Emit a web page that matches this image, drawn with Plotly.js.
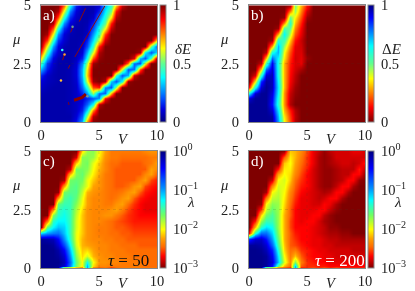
<!DOCTYPE html>
<html><head><meta charset="utf-8">
<script src="https://cdn.plot.ly/plotly-3.0.1.min.js"></script>
<style>html,body{margin:0;padding:0;background:#fff;overflow:hidden}#wrap{width:415px;height:291px;overflow:hidden;position:relative}#c{position:absolute;left:0;top:-12px;width:415px;height:315px;filter:blur(0.35px)}</style>
</head><body><div id="wrap"><div id="c"></div></div>
<script>
const vValues=[0,0.5,1,1.5,2,2.5,3,3.5,4,4.5,5,5.5,6,6.5,7,7.5,8,8.5,9,9.5,10];
const muValues=[5,4.75,4.5,4.25,4,3.75,3.5,3.25,3,2.75,2.5,2.25,2,1.75,1.5,1.25,1,0.75,0.5,0.25,0];
const muValuesLog=[5,4.75,4.5,4.25,4,3.75,3.5,3.25,3,2.75,2.5,2.25,2,1.75,1.5,1.25,1,0.75,0.5,0.25,0.07,0];

const deltaSmallE=[
[1,1,1,1,.78,.4,.15,.07,.05,.06,.1,.3,.43,.68,.93,1,1,1,1,1,1],
[1,1,1,.95,.6,.25,.1,.06,.05,.06,.15,.36,.52,.87,1,1,1,1,1,1,1],
[1,1,1,.8,.42,.16,.08,.05,.05,.08,.25,.42,.65,.95,1,1,1,1,1,1,1],
[1,1,.95,.6,.26,.1,.06,.05,.06,.15,.33,.5,.85,1,1,1,1,1,1,1,1],
[1,1,.8,.42,.16,.08,.05,.05,.07,.2,.4,.62,.93,1,1,1,1,1,1,1,1],
[1,.96,.62,.26,.1,.06,.05,.05,.08,.28,.47,.82,1,1,1,1,1,1,1,1,1],
[1,.82,.44,.17,.09,.05,.05,.06,.15,.35,.6,.92,1,1,1,1,1,1,1,1,.65],
[.97,.62,.28,.11,.06,.05,.05,.08,.2,.45,.85,1,1,1,1,1,1,1,1,.5,.2],
[.83,.46,.18,.09,.05,.05,.06,.1,.3,.6,.95,1,1,1,1,1,1,.97,.38,.2,.35],
[.65,.3,.11,.06,.05,.05,.07,.15,.4,.8,.98,1,1,1,1,1,.9,.3,.2,.48,1],
[.46,.18,.09,.05,.05,.05,.09,.25,.56,.97,1,1,1,1,1,.75,.22,.2,.62,1,1],
[.3,.14,.07,.05,.05,.06,.1,.3,.65,1,1,1,1,1,.6,.2,.23,.8,1,1,1],
[.15,.08,.06,.05,.05,.06,.1,.3,.68,1,1,1,1,.45,.2,.3,.93,1,1,1,1],
[.1,.07,.06,.05,.05,.06,.09,.27,.6,.97,1,.95,.33,.2,.4,.98,1,1,1,1,1],
[.08,.06,.05,.05,.05,.06,.08,.22,.42,.8,.85,.26,.2,.55,1,1,1,1,1,1,1],
[.06,.05,.05,.05,.05,.06,.08,.15,.28,.55,.22,.22,.7,1,1,1,1,1,1,1,1],
[.05,.05,.05,.05,.05,.06,.08,.1,.15,.2,.27,.87,1,1,1,1,1,1,1,1,1],
[.05,.05,.05,.05,.05,.06,.08,.12,.22,.4,.95,1,1,1,1,1,1,1,1,1,1],
[.05,.05,.05,.05,.05,.06,.08,.15,.35,.75,1,1,1,1,1,1,1,1,1,1,1],
[.05,.05,.05,.05,.05,.05,.1,.22,.55,.95,1,1,1,1,1,1,1,1,1,1,1],
[.05,.05,.05,.05,.05,.06,.13,.3,.75,1,1,1,1,1,1,1,1,1,1,1,1]];

const deltaBigE=[
[0,0,0,0,0,0,0,.03,.48,.3,.14,0,0,0,0,0,0,0,0,0,0],
[0,0,0,0,0,0,0,.25,.45,.25,.08,0,0,0,0,0,0,0,0,0,0],
[0,0,0,0,0,0,.02,.5,.36,.2,.03,0,0,0,0,0,0,0,0,0,0],
[0,0,0,0,0,0,.27,.58,.3,.15,0,0,0,0,0,0,0,0,0,0,0],
[0,0,0,0,0,.03,.53,.5,.25,.12,0,0,0,0,0,0,0,0,0,0,0],
[0,0,0,0,0,.3,.65,.42,.2,.1,0,0,0,0,0,0,0,0,0,0,0],
[0,0,0,0,.04,.6,.55,.32,.14,.07,0,0,0,0,0,0,0,0,0,0,0],
[0,0,0,0,.3,.72,.45,.25,.1,.08,0,0,0,0,0,0,0,0,0,0,0],
[0,0,0,.06,.62,.72,.38,.2,.09,.09,0,0,0,0,0,0,0,0,0,0,0],
[0,0,0,.32,.8,.65,.35,.17,.08,.1,.02,0,0,0,0,0,0,0,0,0,0],
[0,0,.07,.55,.9,.62,.3,.15,.09,.1,0,0,0,0,0,0,0,0,0,0,0],
[0,0,.33,.8,.93,.62,.3,.14,.08,.04,0,0,0,0,0,0,0,0,0,0,0],
[0,.09,.6,.93,.95,.62,.3,.13,.06,0,0,0,0,0,0,0,0,0,0,0,0],
[0,.35,.85,.97,.95,.65,.3,.12,.05,0,0,0,0,0,0,0,0,0,0,0,0],
[.15,.62,.93,.98,.95,.67,.3,.1,.03,0,0,0,0,0,0,0,0,0,0,0,0],
[.65,.93,.98,.98,.92,.65,.27,.07,.02,0,0,0,0,0,0,0,0,0,0,0,0],
[.93,.98,.98,.98,.9,.62,.27,.06,.01,0,0,0,0,0,0,0,0,0,0,0,0],
[.98,.98,.98,.98,.88,.6,.27,.05,0,0,0,0,0,0,0,0,0,0,0,0,0],
[.98,.98,.98,.98,.93,.67,.3,.15,.05,0,0,0,0,0,0,0,0,0,0,0,0],
[.98,.98,.98,.98,.97,.72,.35,.18,.06,0,0,0,0,0,0,0,0,0,0,0,0],
[.98,.98,.98,.98,.98,.75,.38,.2,.05,0,0,0,0,0,0,0,0,0,0,0,0]];

const logLambda50=[
[-3,-3,-3,-3,-3,-3,-3,-2.1,-1.75,-1.7,-2,-2.25,-2.4,-2.4,-2.4,-2.4,-2.4,-2.4,-2.35,-2.3,-2.3],
[-3,-3,-3,-3,-3,-3,-2.8,-1.7,-1.7,-1.75,-2.05,-2.3,-2.4,-2.4,-2.45,-2.45,-2.45,-2.45,-2.45,-2.4,-2.4],
[-3,-3,-3,-3,-3,-3,-2.15,-1.7,-1.65,-1.95,-2.15,-2.35,-2.45,-2.45,-2.5,-2.5,-2.5,-2.5,-2.45,-2.4,-2.25],
[-3,-3,-3,-3,-3,-2.85,-1.65,-1.65,-1.7,-2,-2.2,-2.35,-2.45,-2.5,-2.5,-2.5,-2.5,-2.5,-2.5,-2.25,-2.35],
[-3,-3,-3,-3,-3,-2.2,-1.7,-1.6,-1.8,-2.05,-2.25,-2.4,-2.45,-2.5,-2.5,-2.5,-2.5,-2.5,-2.35,-2.25,-2.5],
[-3,-3,-3,-3,-2.9,-1.65,-1.6,-1.65,-1.95,-2.15,-2.3,-2.4,-2.45,-2.5,-2.5,-2.5,-2.5,-2.35,-2.25,-2.55,-2.65],
[-3,-3,-3,-3,-2.27,-1.6,-1.55,-1.75,-1.95,-2.25,-2.3,-2.4,-2.45,-2.5,-2.5,-2.45,-2.3,-2.25,-2.55,-2.65,-2.7],
[-3,-3,-3,-2.95,-1.65,-1.55,-1.55,-1.85,-2.2,-2.3,-2.35,-2.4,-2.45,-2.45,-2.4,-2.3,-2.25,-2.5,-2.65,-2.7,-2.75],
[-3,-3,-3,-2.3,-1.55,-1.45,-1.6,-1.95,-2.25,-2.35,-2.35,-2.4,-2.45,-2.4,-2.3,-2.25,-2.5,-2.65,-2.7,-2.75,-2.75],
[-3,-3,-3,-1.6,-1.45,-1.45,-1.7,-2,-2.25,-2.35,-2.35,-2.4,-2.4,-2.3,-2.25,-2.45,-2.6,-2.7,-2.75,-2.75,-2.75],
[-3,-3,-2.3,-1.45,-1.35,-1.45,-1.8,-2.1,-2.3,-2.35,-2.35,-2.35,-2.3,-2.25,-2.4,-2.55,-2.65,-2.7,-2.75,-2.75,-2.75],
[-3,-3,-1.7,-1.4,-1.3,-1.45,-1.85,-2.15,-2.3,-2.35,-2.35,-2.3,-2.3,-2.4,-2.5,-2.6,-2.65,-2.7,-2.7,-2.7,-2.7],
[-3,-2.4,-1.4,-1.25,-1.25,-1.45,-1.9,-2.15,-2.3,-2.35,-2.35,-2.4,-2.45,-2.5,-2.55,-2.6,-2.65,-2.65,-2.65,-2.65,-2.65],
[-3,-1.6,-1.25,-1.1,-1.15,-1.45,-1.9,-2.15,-2.3,-2.35,-2.4,-2.4,-2.45,-2.5,-2.5,-2.55,-2.6,-2.6,-2.6,-2.6,-2.6],
[-1.2,-1,-.9,-.85,-1.1,-1.45,-1.95,-2.15,-2.3,-2.35,-2.4,-2.4,-2.45,-2.45,-2.5,-2.5,-2.55,-2.55,-2.55,-2.55,-2.55],
[-.1,-.15,-.2,-.45,-.95,-1.4,-1.95,-2.2,-2.3,-2.35,-2.35,-2.4,-2.4,-2.45,-2.45,-2.5,-2.5,-2.5,-2.5,-2.5,-2.5],
[-.05,-.05,-.1,-.3,-.7,-1.25,-1.9,-2.2,-2.25,-2.3,-2.35,-2.35,-2.4,-2.4,-2.45,-2.45,-2.45,-2.5,-2.5,-2.5,-2.5],
[-.05,-.05,-.05,-.15,-.45,-1.1,-1.8,-2.15,-2.1,-2.25,-2.35,-2.35,-2.4,-2.4,-2.4,-2.45,-2.45,-2.45,-2.45,-2.45,-2.45],
[-.05,-.05,-.05,-.1,-.3,-.95,-1.7,-2.1,-1.9,-2.2,-2.3,-2.35,-2.35,-2.4,-2.4,-2.4,-2.45,-2.45,-2.45,-2.45,-2.45],
[-.05,-.05,-.05,-.05,-.2,-.8,-1.6,-2,-1.3,-2,-2.3,-2.3,-2.35,-2.35,-2.4,-2.4,-2.4,-2.4,-2.45,-2.45,-2.45],
[-.05,-.05,-.05,-.08,-.3,-.9,-1.65,-2.05,-1.05,-2.1,-2.35,-2.35,-2.4,-2.4,-2.4,-2.4,-2.4,-2.4,-2.45,-2.45,-2.45],
[-.05,-.05,-.05,-.1,-2.9,-2.7,-2.6,-2.5,-1,-2.5,-2.6,-2.45,-2.7,-2.5,-2.4,-2.4,-2.4,-2.4,-2.4,-2.4,-2.4]];

const logLambda200=[
[-3,-3,-3,-3,-3,-3,-2.95,-2.15,-2.2,-2.35,-2.55,-2.75,-2.85,-2.95,-2.85,-2.8,-2.8,-2.8,-2.75,-2.75,-2.8],
[-3,-3,-3,-3,-3,-3,-2.5,-2.05,-2.2,-2.4,-2.6,-2.75,-2.9,-2.95,-2.9,-2.8,-2.8,-2.8,-2.8,-2.8,-2.8],
[-3,-3,-3,-3,-3,-3,-2.15,-2,-2.25,-2.45,-2.6,-2.75,-2.9,-2.95,-2.9,-2.85,-2.8,-2.8,-2.85,-2.8,-2.65],
[-3,-3,-3,-3,-3,-2.65,-2.05,-2.05,-2.3,-2.5,-2.65,-2.8,-2.9,-2.95,-2.95,-2.9,-2.85,-2.85,-2.85,-2.65,-2.85],
[-3,-3,-3,-3,-3,-2.25,-2,-2.1,-2.35,-2.55,-2.7,-2.8,-2.9,-2.95,-2.95,-2.9,-2.85,-2.85,-2.7,-2.7,-2.95],
[-3,-3,-3,-3,-2.8,-2,-1.9,-2.15,-2.45,-2.6,-2.7,-2.8,-2.9,-2.95,-2.95,-2.9,-2.85,-2.7,-2.7,-2.95,-3],
[-3,-3,-3,-3,-2.35,-1.9,-1.95,-2.25,-2.5,-2.65,-2.7,-2.8,-2.9,-2.95,-2.95,-2.85,-2.7,-2.7,-2.9,-3,-3],
[-3,-3,-3,-2.9,-2,-1.85,-2,-2.35,-2.55,-2.7,-2.75,-2.8,-2.85,-2.9,-2.85,-2.7,-2.7,-2.9,-3,-3,-3],
[-3,-3,-3,-2.4,-1.85,-1.8,-2.05,-2.4,-2.6,-2.75,-2.75,-2.8,-2.85,-2.8,-2.7,-2.7,-2.9,-3,-3,-3,-3],
[-3,-3,-2.95,-2,-1.7,-1.75,-2.1,-2.45,-2.65,-2.75,-2.75,-2.8,-2.8,-2.7,-2.75,-2.9,-3,-3,-3,-3,-3],
[-3,-3,-2.55,-1.85,-1.6,-1.75,-2.15,-2.5,-2.7,-2.75,-2.75,-2.75,-2.7,-2.7,-2.85,-2.95,-3,-3,-3,-3,-3],
[-3,-3,-2.1,-1.65,-1.5,-1.75,-2.2,-2.5,-2.7,-2.75,-2.75,-2.7,-2.7,-2.85,-2.95,-3,-3,-3,-3,-3,-3],
[-3,-2.65,-1.75,-1.45,-1.45,-1.75,-2.2,-2.55,-2.7,-2.75,-2.7,-2.7,-2.8,-2.9,-2.95,-3,-3,-3,-3,-3,-3],
[-3,-2.2,-1.4,-1.2,-1.3,-1.75,-2.2,-2.55,-2.7,-2.7,-2.7,-2.75,-2.8,-2.85,-2.95,-2.95,-3,-3,-3,-3,-3],
[-2.7,-1.4,-.85,-.85,-1.15,-1.7,-2.2,-2.5,-2.65,-2.7,-2.7,-2.75,-2.8,-2.85,-2.9,-2.9,-2.95,-2.95,-3,-3,-3],
[-.6,-.3,-.25,-.5,-1,-1.6,-2.2,-2.5,-2.6,-2.7,-2.7,-2.75,-2.75,-2.8,-2.85,-2.85,-2.9,-2.9,-2.9,-2.9,-2.9],
[-.1,-.1,-.15,-.3,-.8,-1.5,-2.15,-2.5,-2.55,-2.65,-2.7,-2.75,-2.75,-2.8,-2.8,-2.85,-2.85,-2.85,-2.85,-2.85,-2.85],
[-.05,-.05,-.08,-.2,-.55,-1.35,-2.1,-2.45,-2.4,-2.6,-2.65,-2.7,-2.75,-2.75,-2.8,-2.8,-2.8,-2.8,-2.85,-2.85,-2.85],
[-.05,-.05,-.05,-.1,-.4,-1.2,-2,-2.4,-2.15,-2.5,-2.65,-2.7,-2.7,-2.75,-2.75,-2.8,-2.8,-2.8,-2.8,-2.8,-2.8],
[-.05,-.05,-.05,-.1,-.3,-1.1,-1.9,-2.35,-1.7,-2.4,-2.6,-2.65,-2.7,-2.7,-2.75,-2.75,-2.75,-2.75,-2.75,-2.75,-2.75],
[-.05,-.05,-.05,-.1,-.5,-1.6,-2.2,-2.45,-1.1,-2.5,-2.6,-2.6,-2.65,-2.65,-2.7,-2.7,-2.7,-2.7,-2.7,-2.7,-2.7],
[-.05,-.05,-.1,-2.9,-2.8,-2.85,-2.7,-2.7,-1,-2.7,-2.6,-2.5,-2.6,-2.45,-2.6,-2.45,-2.6,-2.6,-2.6,-2.6,-2.6]];

const crackV=[2.35,2.49,null,2.92,4.5,5.5,null,1.86,2,null,2.55,2.72,null,3.3,3.84];
const crackMu=[2.29,2.44,null,2.79,4.15,4.97,null,2.65,2.87,null,3.84,4.05,null,4.3,4.87];
const blobV=[2.35,2.42,null,2.85,3.2,3.55,3.87];
const blobMu=[0.79,0.8,null,0.93,0.98,1.05,1.19];
const speckV=[1.83,2.03,1.72,2.72,4.0];
const speckMu=[3.08,2.89,1.78,4.08,1.1];
const speckColor=['#30ffff','#ffa030','#ffc030','#70a090','#70a090'];

const smallTicks=[0,0.5,1], smallLabels=['0','0.5','1'];
const logTicks=[-3,-2,-1,0], logLabels=['10<sup>−3</sup>','10<sup>−2</sup>','10<sup>−1</sup>','10<sup>0</sup>'];

const jetUp=[[0,'#00007f'],[0.11,'#0000e0'],[0.2,'#0050ff'],[0.38,'#00ffff'],[0.5,'#60ff90'],[0.63,'#ffff00'],[0.875,'#ff0000'],[1,'#7f0000']];
const jetDown=[[0,'#7f0000'],[0.125,'#ff0000'],[0.37,'#ffff00'],[0.5,'#60ff90'],[0.65,'#00ffff'],[0.89,'#0000ff'],[1,'#00007f']];
const logJet=[[0,'#7f0000'],[0.1,'#ff0000'],[0.18,'#ff6a00'],[0.25,'#ffa000'],[0.33,'#ffff00'],[0.45,'#70ff60'],[0.58,'#00ffff'],[0.68,'#0090ff'],[0.85,'#0000ff'],[1,'#00007f']];

const F='"Liberation Serif","DejaVu Serif",serif', W=415, H=315, OFF=12, SZ=14.5;
const cols=[[41,157],[249,365]], rows=[[5.3+OFF,122+OFF],[151+OFF,268+OFF]];
const bars=[160,368];
const panels=[
 {z:deltaSmallE,y:muValues,cs:jetUp,zmin:0,zmax:1,tv:smallTicks,tt:smallLabels,c:0,r:0,lab:'a)',bt:'<i>δE</i>',bx:183,by:49},
 {z:deltaBigE,y:muValues,cs:jetDown,zmin:0,zmax:1,tv:smallTicks,tt:smallLabels,c:1,r:0,lab:'b)',bt:'Δ<i>E</i>',bx:391,by:49},
 {z:logLambda50,y:muValuesLog,cs:logJet,zmin:-3,zmax:0,tv:logTicks,tt:logLabels,c:0,r:1,lab:'c)',bt:'<i>λ</i>',bx:191,by:202},
 {z:logLambda200,y:muValuesLog,cs:logJet,zmin:-3,zmax:0,tv:logTicks,tt:logLabels,c:1,r:1,lab:'d)',bt:'<i>λ</i>',bx:398,by:202}
];
const traces=[],annotations=[],shapes=[],layout={};
const note=(px,py,text,color,size)=>annotations.push({xref:'paper',yref:'paper',x:px/W,y:1-(py+OFF)/H,text,showarrow:false,xanchor:'center',yanchor:'middle',font:{family:F,size:size||SZ,color:color||'#222'}});
panels.forEach((p,i)=>{
 const n=i+1,xa='x'+(n>1?n:''),ya='y'+(n>1?n:''),[x0,x1]=cols[p.c],[y0,y1]=rows[p.r];
 traces.push({type:'heatmap',x:vValues,y:p.y,z:p.z,xaxis:xa,yaxis:ya,colorscale:p.cs,zmin:p.zmin,zmax:p.zmax,zsmooth:'best',hoverinfo:'skip',
  colorbar:{x:bars[p.c]/W,xanchor:'left',xpad:0,ypad:0,y:1-(y0+y1)/2/H,yanchor:'middle',lenmode:'pixels',len:y1-y0,thicknessmode:'pixels',thickness:6,
   tickmode:'array',tickvals:p.tv,ticktext:p.tt,ticks:'outside',ticklen:4,tickcolor:'rgba(0,0,0,0)',tickfont:{family:F,size:SZ,color:'#222'},outlinecolor:'#888',outlinewidth:1}});
 const ax={showgrid:false,zeroline:false,showline:true,mirror:true,linecolor:'#888',linewidth:1,ticks:'outside',tickcolor:'rgba(0,0,0,0)',tickfont:{family:F,size:SZ,color:'#222'},tickmode:'array'};
 layout['xaxis'+(n>1?n:'')]={...ax,ticklen:0,domain:[x0/W,x1/W],range:[0,10],tickvals:[0,5,10],anchor:ya};
 layout['yaxis'+(n>1?n:'')]={...ax,ticklen:6,domain:[1-y1/H,1-y0/H],range:[0,5],tickvals:[0,2.5,5],ticktext:['0','2.5','5'],anchor:xa};
 shapes.push({type:'line',xref:xa,yref:ya,x0:5,x1:5,y0:0,y1:5,line:{color:'rgba(60,60,40,.3)',width:.5,dash:'dot'}});
 shapes.push({type:'line',xref:xa,yref:ya,x0:0,x1:10,y0:2.5,y1:2.5,line:{color:'rgba(60,60,40,.3)',width:.5,dash:'dot'}});
 note(x0+8,y0-OFF+10,p.lab,'#fff',15);
 note(x0+82,p.r?282.5:139,'<i>V</i>');
 note(x0-25,y0-OFF+34,'<i>μ</i>');
 note(p.bx,p.by,p.bt,'#222',15);
});
traces.push({type:'scatter',mode:'lines',x:crackV,y:crackMu,xaxis:'x',yaxis:'y',line:{color:'#8b0a0a',width:1},hoverinfo:'skip',showlegend:false});
traces.push({type:'scatter',mode:'lines',x:blobV,y:blobMu,xaxis:'x',yaxis:'y',line:{color:'#8b0000',width:3},hoverinfo:'skip',showlegend:false});
traces.push({type:'scatter',mode:'markers',x:speckV,y:speckMu,xaxis:'x',yaxis:'y',marker:{size:2.5,color:speckColor},hoverinfo:'skip',showlegend:false});
note(128,260,'<i>τ</i> = 50','#111',17);
note(340,260,'<i>τ</i> = 200','#fff',17);
Plotly.newPlot('c',traces,Object.assign(layout,{width:W,height:H,margin:{l:0,r:0,t:0,b:0},paper_bgcolor:'#fff',plot_bgcolor:'#fff',showlegend:false,annotations,shapes}),{staticPlot:true});
</script></body></html>
